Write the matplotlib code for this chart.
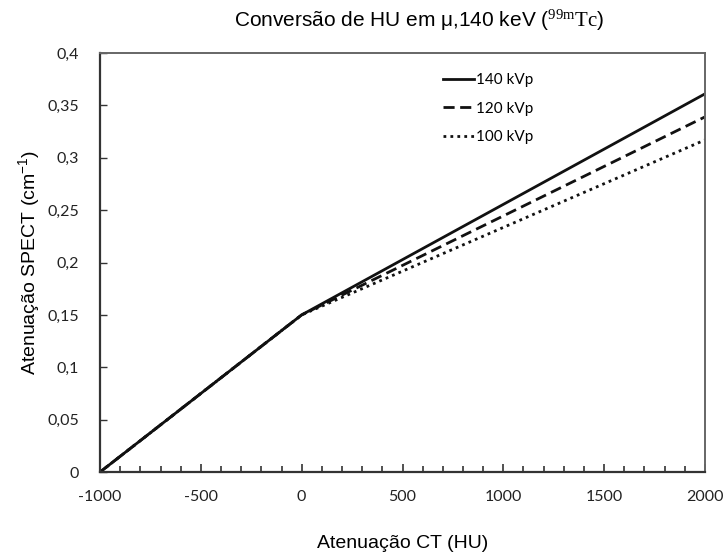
import matplotlib
matplotlib.use('Agg')
import matplotlib.pyplot as plt
from matplotlib.ticker import MultipleLocator, FuncFormatter

plt.rcParams['font.family'] = ['Liberation Sans', 'DejaVu Sans']
plt.rcParams['mathtext.fontset'] = 'custom'
plt.rcParams['mathtext.rm'] = 'Liberation Serif'
plt.rcParams['mathtext.it'] = 'Liberation Serif:italic'
plt.rcParams['mathtext.default'] = 'regular'
plt.rcParams['axes.unicode_minus'] = False

# HU -> attenuation (cm^-1), bilinear conversion
hu = [-1000, 0, 2000]
mu_140 = [0.0, 0.15, 0.361]
mu_120 = [0.0, 0.15, 0.339]
mu_100 = [0.0, 0.15, 0.317]
labels = ['140 kVp', '120 kVp', '100 kVp']

fig = plt.figure(figsize=(7.27, 5.55), dpi=100)
ax = fig.add_axes([0.1376, 0.1495, 0.8321, 0.755])

ax.plot(hu, mu_140, color='#111111', lw=2.0, ls='-', label=labels[0])
ax.plot(hu, mu_120, color='#111111', lw=2.0, ls=(0, (4, 2)), label=labels[1])
ax.plot(hu, mu_100, color='#111111', lw=2.0, ls=(0, (1, 1.5)), label=labels[2])

ax.set_xlim(-1000, 2000)
ax.set_ylim(0, 0.4)
ax.xaxis.set_major_locator(MultipleLocator(500))
ax.xaxis.set_minor_locator(MultipleLocator(100))
ax.yaxis.set_major_locator(MultipleLocator(0.05))
ax.yaxis.set_major_formatter(FuncFormatter(lambda v, p: ('%g' % round(v, 2)).replace('.', ',')))
ax.tick_params(axis='both', which='both', direction='in', top=False, right=False,
               colors='#333333', labelcolor='#222222', labelsize=11.5)
ax.tick_params(axis='x', which='major', length=6, width=1.2, pad=13)
ax.tick_params(axis='x', which='minor', length=4, width=1.2)
ax.tick_params(axis='y', which='major', length=5, width=1.0, pad=15)
for lab in ax.get_xticklabels() + ax.get_yticklabels():
    lab.set_family(['Lato', 'DejaVu Sans'])

for side in ['left', 'bottom']:
    ax.spines[side].set_color('#333333')
    ax.spines[side].set_linewidth(1.6)
for side in ['top', 'right']:
    ax.spines[side].set_color('#666666')
    ax.spines[side].set_linewidth(1.4)

ax.set_xlabel('Atenuação CT (HU)', fontsize=14, labelpad=22)
ax.set_ylabel('Atenuação SPECT (cm$^{-1}$)', fontsize=14, labelpad=4)
fig.text(0.577, 0.964, r'Conversão de HU em μ,140 keV ($^{\mathrm{99m}}\mathrm{Tc}$)',
         ha='center', va='center', fontsize=15)

leg = ax.legend(loc='upper left', bbox_to_anchor=(0.545, 0.985), frameon=False,
                handlelength=2.0, handletextpad=0.1, labelspacing=0.95,
                prop={'family': ['Lato', 'DejaVu Sans'], 'size': 11})

fig.savefig('out.png', dpi=100)
